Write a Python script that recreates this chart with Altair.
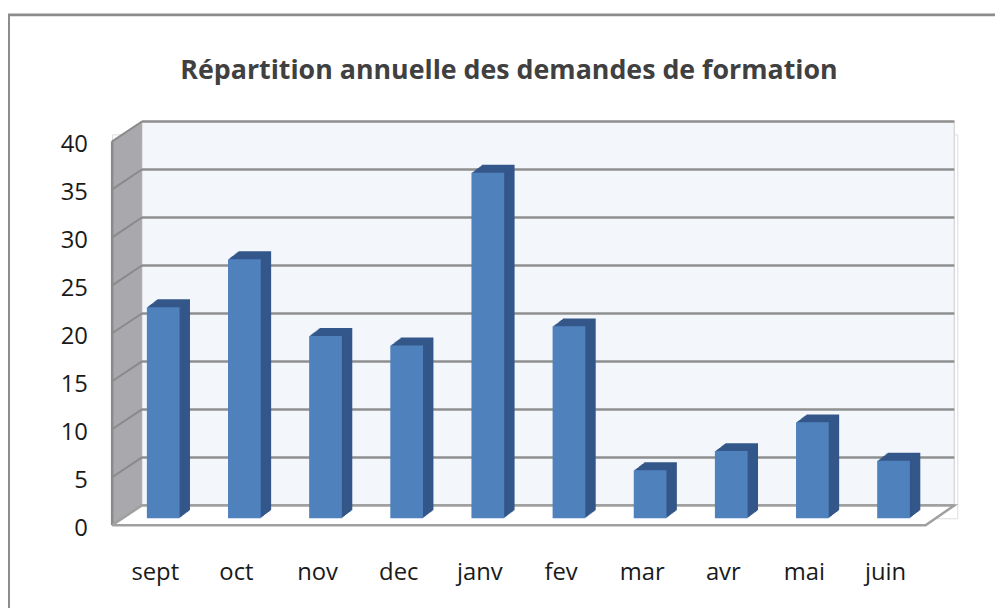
import altair as alt
import pandas as pd

# ---- data ----
months = ["sept", "oct", "nov", "dec", "janv", "fev", "mar", "avr", "mai", "juin"]
demandes = [22, 27, 19, 18, 36, 20, 5, 7, 10, 6]
y_ticks = [0, 5, 10, 15, 20, 25, 30, 35, 40]
title_text = "Répartition annuelle des demandes de formation"

bars = pd.DataFrame({"mois": months, "demandes": demandes})
grid = pd.DataFrame({"v": y_ticks})

FONT = "Open Sans"
W, H = 852, 387

x_scale = alt.Scale(domain=months, range=[35, 804.2], paddingInner=0.597, paddingOuter=0)
y_scale = alt.Scale(domain=[0, 40], range=[H, 0])

# ---- decorations (pixel geometry of the pseudo-3D frame) ----
side_wall = pd.DataFrame({"px": [0, 30], "top": [7, -13], "bot": [394, 374]})
floor_area = pd.DataFrame({"px": [0, 30, 820, 849], "top": [394, 374, 374, 374], "bot": [394, 394, 394, 374]})
floor_line = pd.DataFrame({"px": [0, 30, 849, 820, 0], "py": [394, 374, 374, 394, 394], "o": [0, 1, 2, 3, 4]})
side_edge = pd.DataFrame({"px": [0, 0], "py": [7, 394], "o": [0, 1]})
one = pd.DataFrame({"t": [title_text]})

border = alt.Chart(one).mark_rect(fillOpacity=0, stroke="#8c8c8c", strokeWidth=3).encode(
    x=alt.value(-104.5), x2=alt.value(900), y=alt.value(-120.5), y2=alt.value(500)
)

back_wall = alt.Chart(one).mark_rect(fill="#f3f6fb", stroke="#d9d9d9", strokeWidth=1.5).encode(
    x=alt.value(30), x2=alt.value(849), y=alt.value(-13), y2=alt.value(374)
)

side = alt.Chart(side_wall).mark_area(color="#a9a9ad", opacity=1).encode(
    x=alt.X("px:Q", scale=None, axis=None),
    y=alt.Y("top:Q", scale=None, axis=None),
    y2="bot:Q",
)
side_edge_l = alt.Chart(side_edge).mark_line(color="#8a8a8a", strokeWidth=2.5).encode(
    x=alt.X("px:Q", scale=None, axis=None),
    y=alt.Y("py:Q", scale=None, axis=None),
    order="o:Q",
)

back_grid = alt.Chart(grid).mark_rule(color="#8f8f8f", strokeWidth=2.5, yOffset=-13).encode(
    x=alt.value(30), x2=alt.value(849),
    y=alt.Y("v:Q", scale=y_scale, axis=None),
)
side_grid = alt.Chart(grid).mark_rule(color="#8a8a8a", strokeWidth=2, yOffset=7, y2Offset=-13).encode(
    x=alt.value(0), x2=alt.value(30),
    y=alt.Y("v:Q", scale=y_scale, axis=None),
    y2="v:Q",
)

floor = alt.Chart(floor_area).mark_area(color="white", opacity=1).encode(
    x=alt.X("px:Q", scale=None, axis=None),
    y=alt.Y("top:Q", scale=None, axis=None),
    y2="bot:Q",
)
floor_out = alt.Chart(floor_line).mark_line(color="#a0a0a0", strokeWidth=2.5).encode(
    x=alt.X("px:Q", scale=None, axis=None),
    y=alt.Y("py:Q", scale=None, axis=None),
    order="o:Q",
)

# ---- bars: depth faces (stepped offsets) + front faces ----
N = 10
depth_layers = []
for k in range(N, 0, -1):
    depth_layers.append(
        alt.Chart(bars).mark_bar(color="#34578a", xOffset=10.5 * k / N, yOffset=-8 * k / N).encode(
            x=alt.X("mois:N", scale=x_scale, sort=months, axis=None),
            y=alt.Y("demandes:Q", scale=y_scale, axis=None),
        )
    )

front = alt.Chart(bars).mark_bar(color="#4f81bd").encode(
    x=alt.X(
        "mois:N", scale=x_scale, sort=months, title=None,
        axis=alt.Axis(
            orient="bottom", domain=False, ticks=False, tickSize=0, labelPadding=62,
            labelBaseline="alphabetic", labelOffset=-8, labelFont=FONT, labelFontSize=24,
            labelColor="#1a1a1a", labelAngle=0, grid=False, zindex=1,
        ),
    ),
    y=alt.Y(
        "demandes:Q", scale=y_scale, title=None,
        axis=alt.Axis(
            orient="left", values=y_ticks, domain=False, ticks=False, tickSize=0, labelPadding=25,
            labelOffset=10, labelBaseline="middle", labelFont=FONT, labelFontSize=24,
            labelColor="#1a1a1a", grid=False, zindex=1,
        ),
    ),
)

title = alt.Chart(one).mark_text(
    font=FONT, fontSize=27, fontWeight="bold", color="#404040", align="center", baseline="alphabetic"
).encode(x=alt.value(400), y=alt.value(-56), text="t:N")

chart = alt.layer(
    border, back_wall, side, back_grid, side_grid, side_edge_l, floor, floor_out,
    *depth_layers, front, title,
).resolve_scale(x="independent", y="independent").properties(
    width=W, height=H,
    autosize=alt.AutoSizeParams(type="none"),
    padding={"left": 105, "top": 125, "right": 38, "bottom": 88},
).configure_view(stroke=None).configure(background="white")

chart.save("out.html", embed_options={"renderer": "svg", "actions": False})
